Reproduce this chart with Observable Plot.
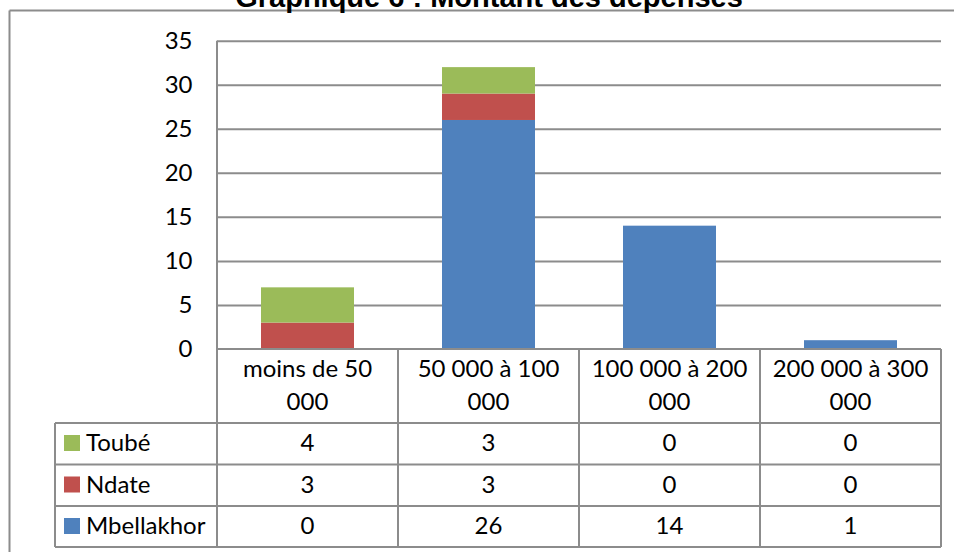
<!DOCTYPE html>
<html>
<head>
<meta charset="utf-8">
<script src="https://cdn.jsdelivr.net/npm/d3@7"></script>
<script src="https://cdn.jsdelivr.net/npm/@observablehq/plot@0.6"></script>
<style>
  html, body { margin: 0; padding: 0; background: #fff; }
  #chart svg { display: block; }
</style>
</head>
<body>
<div id="chart"></div>
<script>
const title = "Graphique 6 : Montant des dépenses";
const categories = ["moins de 50 000", "50 000 à 100 000", "100 000 à 200 000", "200 000 à 300 000"];
const series = ["Mbellakhor", "Ndate", "Toubé"];
const mbellakhor = [0, 26, 14, 1];
const ndate = [3, 3, 0, 0];
const toube = [4, 3, 0, 0];
const colors = ["#4F81BD", "#C0504D", "#9BBB59"];
const yTicks = [0, 5, 10, 15, 20, 25, 30, 35];

const valuesBySeries = {Mbellakhor: mbellakhor, Ndate: ndate, "Toubé": toube};
const data = categories.flatMap((c, i) => series.map(s => ({category: c, series: s, value: valuesBySeries[s][i]})));

const lineColor = "#8c8c8c";
const font = "Lato, 'Open Sans', sans-serif";

const chart = Plot.plot({
  width: 954,
  height: 552,
  marginLeft: 217,
  marginRight: 13,
  marginTop: 40.7,
  marginBottom: 203,
  style: {fontFamily: font, fontSize: "24px", color: "#000", background: "#fff"},
  x: {domain: categories, paddingInner: 0.486, paddingOuter: 0.243, axis: null},
  y: {domain: [0, 35], axis: null},
  color: {domain: series, range: colors},
  marks: [
    Plot.ruleY(yTicks.filter(t => t > 0), {stroke: lineColor, strokeWidth: 2, strokeOpacity: 1}),
    Plot.barY(data, Plot.stackY({x: "category", y: "value", fill: "series"})),
    Plot.axisY({ticks: yTicks, tickSize: 0, tickPadding: 25, fontSize: 24, fill: "#000", label: null})
  ]
});

document.getElementById("chart").appendChild(chart);

const xs = chart.scale("x");
const ys = chart.scale("y");
const step = xs.step, bw = xs.bandwidth;
const bounds = categories.map(c => xs.apply(c) + bw / 2 - step / 2);
bounds.push(xs.apply(categories[categories.length - 1]) + bw / 2 + step / 2);
const left = bounds[0], right = bounds[bounds.length - 1];
const y0 = ys.apply(0), yTop = ys.apply(35);

const svg = d3.select(chart);
const g = svg.append("g").attr("fill", "none");

// table layout
const headerBottom = 423;
const rowTops = [423, 464.5, 506, 547];
const legendLeft = 55;
const rowSeries = ["Toubé", "Ndate", "Mbellakhor"];

function line(x1, y1, x2, y2, w = 2) {
  g.append("line").attr("x1", x1).attr("y1", y1).attr("x2", x2).attr("y2", y2)
    .attr("stroke", lineColor).attr("stroke-width", w);
}

// outer frame
line(9.5, 10.5, 954, 10.5);
line(9.5, 10.5, 9.5, 552);

// axis vertical line and table verticals
line(left, yTop, left, rowTops[3]);
bounds.slice(1).forEach(b => line(b, y0, b, rowTops[3]));
line(legendLeft, headerBottom, legendLeft, rowTops[3]);
// horizontals
line(left, y0, right, y0);
rowTops.forEach(t => line(legendLeft, t, right, t));

const tg = svg.append("g").attr("font-family", font).attr("font-size", 24).attr("fill", "#000");

// category labels (wrapped at last space)
categories.forEach((c, i) => {
  const k = c.lastIndexOf(" ");
  const lines = [c.slice(0, k), c.slice(k + 1)];
  const cx = xs.apply(c) + bw / 2;
  lines.forEach((l, j) => tg.append("text").attr("x", cx).attr("y", 377 + j * 33)
    .attr("text-anchor", "middle").text(l));
});

// rows
rowSeries.forEach((s, r) => {
  const top = rowTops[r];
  const base = top + 28;
  tg.append("rect").attr("x", 64).attr("y", top + 12).attr("width", 16).attr("height", 16)
    .attr("fill", colors[series.indexOf(s)]);
  tg.append("text").attr("x", 86).attr("y", base).attr("text-anchor", "start").text(s);
  categories.forEach((c, i) => {
    tg.append("text").attr("x", xs.apply(c) + bw / 2).attr("y", base)
      .attr("text-anchor", "middle").text(valuesBySeries[s][i]);
  });
});

// title (partially cut at the top, as in the reference)
svg.append("text").attr("x", 489).attr("y", 7).attr("text-anchor", "middle")
  .attr("font-family", "'Liberation Sans', Arial, sans-serif").attr("font-weight", "bold")
  .attr("font-size", 29).attr("fill", "#000").text(title);
</script>
</body>
</html>
